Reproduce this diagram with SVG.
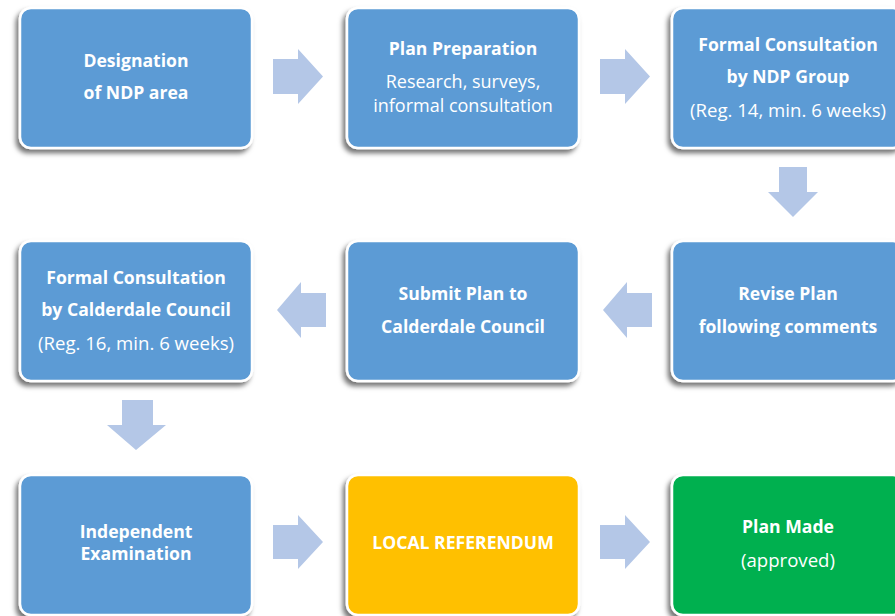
<svg xmlns="http://www.w3.org/2000/svg" width="895" height="616" viewBox="0 0 895 616">
<style>
.box{stroke:#fff;stroke-width:2.5}
.b{fill:#5B9BD5}
.y{fill:#FFC000}
.g{fill:#00B050}
.t{font-family:"Open Sans","Liberation Sans",sans-serif;font-size:18.6px;fill:#fff;text-anchor:middle;dominant-baseline:central}
.h{font-weight:bold;font-size:17.6px}
.arr{fill:#B4C7E7}
</style>
<defs>
<filter id="sh" x="-10%" y="-10%" width="120%" height="125%">
<feDropShadow dx="-3" dy="4" stdDeviation="2.5" flood-color="#000" flood-opacity="0.55"/>
</filter>
</defs>
<rect width="895" height="616" fill="#fff"/>
<g id="connectors">
<polygon class="arr" points="273,59 298,59 298,49 323,76.5 298,104 298,94 273,94"/>
<polygon class="arr" points="600,59 625,59 625,49 650,76.5 625,104 625,94 600,94"/>
<polygon class="arr" points="779,167 807,167 807,192 818,192 793,217 768,192 779,192"/>
<polygon class="arr" points="326,293 301,293 301,282 277,310 301,338 301,327 326,327"/>
<polygon class="arr" points="652,293 627,293 627,282 603,310 627,338 627,327 652,327"/>
<polygon class="arr" points="122,400 153,400 153,425 166,425 136,450 107,425 122,425"/>
<polygon class="arr" points="273,525 298,525 298,515 323,542 298,569 298,559 273,559"/>
<polygon class="arr" points="600,525 625,525 625,515 650,542 625,569 625,559 600,559"/>
</g>
<g id="n1"><rect class="box b" x="20" y="8" width="232" height="140" rx="11" filter="url(#sh)"/>
<text class="t h" x="136" y="60">Designation</text><text class="t h" x="136" y="92">of NDP area</text></g>
<g id="n2"><rect class="box b" x="347" y="8" width="232" height="140" rx="11" filter="url(#sh)"/>
<text class="t h" x="463" y="48">Plan Preparation</text><text class="t" x="463" y="81" style="font-size:18px">Research, surveys,</text><text class="t" x="463" y="104.5" style="font-size:18px">informal consultation</text></g>
<g id="n3"><rect class="box b" x="672" y="8" width="232" height="140" rx="11" filter="url(#sh)"/>
<text class="t h" x="788" y="44">Formal Consultation</text><text class="t h" x="788" y="76">by NDP Group</text><text class="t" x="788" y="109">(Reg. 14, min. 6 weeks)</text></g>
<g id="n4"><rect class="box b" x="20" y="241" width="232" height="140" rx="11" filter="url(#sh)"/>
<text class="t h" x="136" y="277">Formal Consultation</text><text class="t h" x="136" y="309">by Calderdale Council</text><text class="t" x="136" y="342">(Reg. 16, min. 6 weeks)</text></g>
<g id="n5"><rect class="box b" x="347" y="241" width="232" height="140" rx="11" filter="url(#sh)"/>
<text class="t h" x="463" y="293">Submit Plan to</text><text class="t h" x="463" y="326">Calderdale Council</text></g>
<g id="n6"><rect class="box b" x="672" y="241" width="232" height="140" rx="11" filter="url(#sh)"/>
<text class="t h" x="788" y="293">Revise Plan</text><text class="t h" x="788" y="326">following comments</text></g>
<g id="n7"><rect class="box b" x="20" y="475" width="232" height="140" rx="11" filter="url(#sh)"/>
<text class="t h" x="136" y="531">Independent</text><text class="t h" x="136" y="553">Examination</text></g>
<g id="n8"><rect class="box y" x="347" y="475" width="232" height="140" rx="11" filter="url(#sh)"/>
<text class="t h" x="463" y="542">LOCAL REFERENDUM</text></g>
<g id="n9"><rect class="box g" x="672" y="475" width="232" height="140" rx="11" filter="url(#sh)"/>
<text class="t h" x="788" y="526">Plan Made</text><text class="t" x="788" y="559">(approved)</text></g>
</svg>
